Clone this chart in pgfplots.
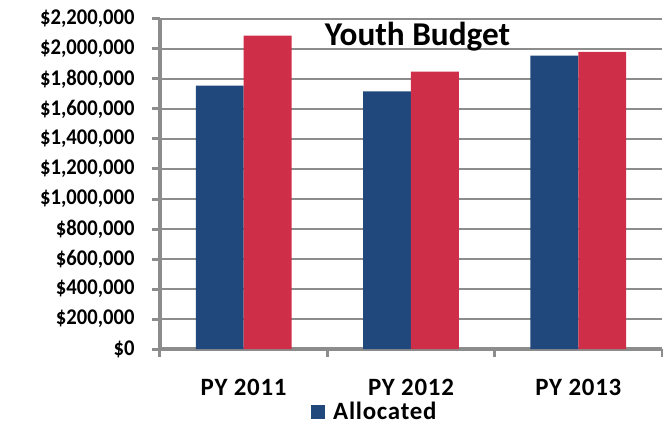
\documentclass[border=0pt]{standalone}
\usepackage{pgfplots}
\pgfplotsset{compat=1.18}
\usepackage{fontspec}
\setmainfont{Carlito}
\usetikzlibrary{calc}
\definecolor{cblue}{RGB}{32,72,124}
\definecolor{cred}{RGB}{207,46,72}
\definecolor{cgrid}{RGB}{140,140,140}
\newfontfamily\widefont[LetterSpace=3]{Carlito}
\newfontfamily\narrowfont[FakeStretch=0.92]{Carlito}
\begin{document}
\begin{tikzpicture}
\begin{axis}[
  name=ax,
  scale only axis,
  width=502bp, height=330bp,
  xmin=-0.5, xmax=2.5,
  ymin=0, ymax=2200000,
  ytick distance=200000,
  xtick={0,1,2},
  xticklabels={PY 2011,PY 2012,PY 2013},
  minor xtick={-0.5,0.5,1.5,2.5},
  axis x line*=bottom,
  axis y line*=left,
  axis line style={cgrid, line width=3.5bp, -},
  ymajorgrids,
  major grid style={cgrid, line width=2.6bp},
  tick align=outside,
  major tick length=8bp,
  minor tick length=8bp,
  ytick style={cgrid, line width=3bp},
  xtick style={draw=none},
  minor x tick style={draw=cgrid, line width=3bp},
  scaled y ticks=false,
  /pgf/number format/assume math mode=true,
  /pgf/number format/fixed,
  /pgf/number format/1000 sep={,},
  yticklabel={\$\pgfmathprintnumber{\tick}},
  yticklabel style={font=\narrowfont\bfseries\fontsize{22.5}{23}\selectfont, xshift=-14bp},
  xticklabel style={font=\widefont\bfseries\fontsize{25}{26}\selectfont, yshift=-19bp},
  ybar,
  bar width=0.286,
  legend style={at={(0.428,-0.155)}, anchor=north, draw=none, fill=none,
    font=\widefont\bfseries\fontsize{25}{26}\selectfont, inner sep=0pt},
  legend image code/.code={\fill[#1] (0bp,-7bp) rectangle (14bp,7bp); \path (20bp,0bp);},
  clip=false,
]
\addplot[fill=cblue, draw=none, bar shift=-0.143] coordinates {(0,1755000) (1,1718000) (2,1955000)};
\addlegendentry{Allocated}
\addplot[fill=cred, draw=none, bar shift=0.143, forget plot] coordinates {(0,2089000) (1,1849000) (2,1980000)};
\node[anchor=base, font=\bfseries\fontsize{33.4}{34}\selectfont] at (rel axis cs:0.513,0.921) {Youth Budget};
\end{axis}
\pgfresetboundingbox
\path[use as bounding box] ($(ax.south west)+(-160bp,-76bp)$) rectangle ($(ax.north east)+(1bp,19bp)$);
\end{tikzpicture}
\end{document}
